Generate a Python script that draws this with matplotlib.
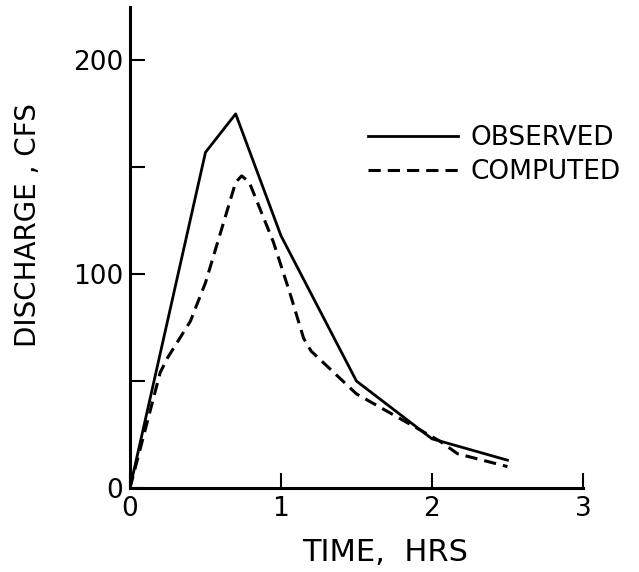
import matplotlib.pyplot as plt
import numpy as np

# Hydrograph values
obs_time = [0.0, 0.5, 0.7, 1.0, 1.5, 2.0, 2.5]
obs_flow = [0, 157, 175, 118, 50, 23, 13]

comp_time = [0.0, 0.2, 0.25, 0.4, 0.5, 0.7, 0.74, 0.79, 0.95, 1.06, 1.15, 1.2, 1.5, 2.05, 2.17, 2.5]
comp_flow = [0, 54, 61, 78, 96, 143, 146, 143, 115, 91, 70, 64, 44, 22, 16, 10]

y_major = [0, 100, 200]
y_minor = [50, 150]
x_ticks = [0, 1, 2, 3]
x_labels = ['0', '1', '2', '3']

plt.rcParams['font.family'] = 'DejaVu Sans'

fig = plt.figure(figsize=(6.39, 5.72), dpi=100)
ax = fig.add_axes([0.2034, 0.1469, 0.7089, 0.8409])

ax.plot(obs_time, obs_flow, color='black', lw=2.0, label='OBSERVED')
ax.plot(comp_time, comp_flow, color='black', lw=2.2, linestyle=(0, (4, 2.3)), label='COMPUTED')

ax.set_xlim(0, 3)
ax.set_ylim(0, 225)

for side in ['top', 'right']:
    ax.spines[side].set_visible(False)
for side in ['left', 'bottom']:
    ax.spines[side].set_linewidth(2.2)

ax.set_yticks(y_major)
ax.set_yticks(y_minor, minor=True)
ax.set_xticks(x_ticks, x_labels)
ax.tick_params(axis='both', which='both', direction='in', width=1.5, length=11, labelsize=19)
ax.tick_params(axis='y', pad=5)
ax.tick_params(axis='x', pad=6)

ax.set_xlabel('TIME,  HRS', fontsize=22)
ax.set_ylabel('DISCHARGE , CFS', fontsize=20)
ax.xaxis.set_label_coords(0.563, -0.105)
ax.yaxis.set_label_coords(-0.195, 0.547)

ax.legend(loc='upper left', bbox_to_anchor=(0.525, 0.755), frameon=False,
          fontsize=19, handlelength=3.4, handletextpad=0.5, borderpad=0,
          borderaxespad=0, labelspacing=0.3)

fig.savefig('out.png', dpi=100)
